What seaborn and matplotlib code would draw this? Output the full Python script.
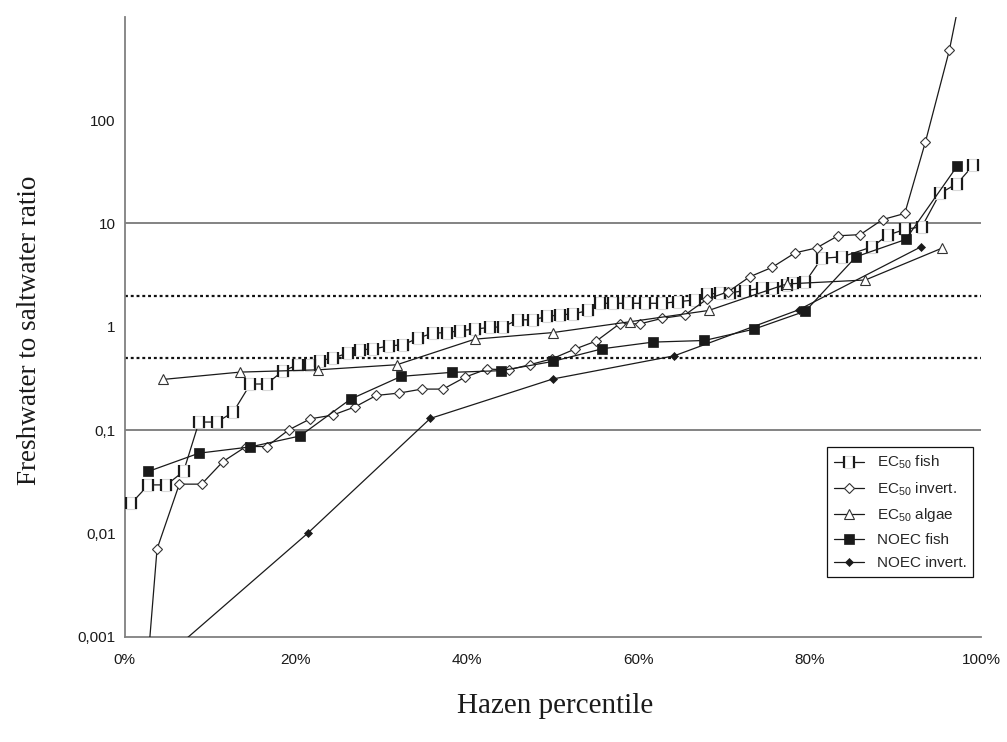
import numpy as np
import pandas as pd
import matplotlib
matplotlib.use("Agg")
import matplotlib.pyplot as plt
import seaborn as sns
from matplotlib.path import Path
from matplotlib.ticker import FixedLocator, FixedFormatter, NullLocator
from matplotlib.legend_handler import HandlerTuple

# ---------------- data (Hazen percentile, % ; freshwater/saltwater ratio) -------------
ec50_fish_x = [0.8, 2.8, 4.9, 6.9, 8.7, 10.8, 12.7, 14.7, 16.6, 18.5, 20.3, 21.6, 22.8, 24.4,
               26.1, 27.5, 29.0, 30.9, 32.5, 34.3, 36.0, 37.7, 39.2, 40.9, 42.7, 44.2, 45.9,
               47.7, 49.3, 50.9, 52.4, 54.1, 55.5, 57.0, 58.8, 60.8, 62.8, 64.6, 66.6, 68.0,
               69.5, 70.7, 72.5, 74.4, 75.7, 77.4, 78.1, 79.5, 81.4, 83.8, 87.3, 89.1, 91.1,
               93.1, 95.2, 97.2, 99.1]
ec50_fish_y = [0.0197, 0.0296, 0.0296, 0.040, 0.12, 0.12, 0.15, 0.28, 0.28, 0.375,
               0.43, 0.43, 0.47, 0.50, 0.56, 0.60, 0.61, 0.655, 0.67, 0.78,
               0.87, 0.88, 0.92, 0.95, 0.99, 1.0, 1.17, 1.17, 1.26, 1.31,
               1.33, 1.44, 1.69, 1.69, 1.69, 1.69, 1.69, 1.75, 1.82, 2.08,
               2.11, 2.14, 2.24, 2.36, 2.36, 2.54, 2.64, 2.73, 4.6, 4.76,
               5.95, 7.7, 8.76, 9.3, 19.5, 24.3, 36.5]

ec50_inv_x = [1.3, 3.8, 6.4, 9.0, 11.5, 14.2, 16.6, 19.2, 21.7, 24.3, 26.9, 29.4, 32.1,
              34.7, 37.2, 39.8, 42.3, 44.9, 47.3, 49.9, 52.6, 55.1, 57.8, 60.2, 62.8,
              65.4, 68.0, 70.5, 73.0, 75.6, 78.3, 80.8, 83.3, 85.9, 88.5, 91.1, 93.5,
              96.3, 98.8]
ec50_inv_y = [0.00002, 0.0071, 0.0301, 0.0301, 0.0498, 0.0696, 0.0696, 0.101, 0.129, 0.14,
              0.168, 0.217, 0.229, 0.25, 0.25, 0.327, 0.39, 0.385, 0.43, 0.49,
              0.61, 0.73, 1.07, 1.07, 1.21, 1.30, 1.85, 2.19, 3.05, 3.76,
              5.2, 5.8, 7.6, 7.8, 10.9, 12.5, 61.0, 472.0, 5000.0]

ec50_alg_x = [4.5, 13.5, 22.6, 31.8, 40.9, 50.0, 59.0, 68.2, 77.3, 86.5, 95.4]
ec50_alg_y = [0.31, 0.365, 0.384, 0.43, 0.76, 0.88, 1.12, 1.44, 2.6, 2.84, 5.75]

noec_fish_x = [2.8, 8.7, 14.7, 20.5, 26.4, 32.3, 38.2, 44.0, 50.0, 55.8, 61.7, 67.7,
               73.5, 79.5, 85.4, 91.2, 97.2]
noec_fish_y = [0.040, 0.060, 0.069, 0.088, 0.20, 0.332, 0.363, 0.377, 0.463, 0.614,
               0.712, 0.738, 0.95, 1.42, 4.76, 7.0, 35.7]

noec_inv_x = [7.2, 21.4, 35.7, 50.0, 64.2, 78.7, 93.0]
noec_inv_y = [0.00096, 0.0101, 0.13, 0.313, 0.525, 1.46, 5.95]

legend_labels = [r"EC$_{\mathrm{50}}$ fish", r"EC$_{\mathrm{50}}$ invert.",
                 r"EC$_{\mathrm{50}}$ algae", "NOEC fish", "NOEC invert."]
y_ticks = [0.001, 0.01, 0.1, 1, 10, 100, 1000]
y_ticklabels = ["0,001", "0,01", "0,1", "1", "10", "100", ""]
x_ticks = [0.0, 0.2, 0.4, 0.6, 0.8, 1.0]
x_ticklabels = ["0%", "20%", "40%", "60%", "80%", "100%"]
solid_refs = [10, 0.1]
dotted_refs = [2, 0.5]

# ---------------- style -------------
sns.set_style("white")
plt.rcParams["font.family"] = ["Liberation Sans", "DejaVu Sans"]
plt.rcParams["mathtext.fontset"] = "custom"
plt.rcParams["mathtext.rm"] = "Liberation Sans"
plt.rcParams["mathtext.it"] = "Liberation Sans:italic"

YMIN, YMAX = 1e-3, 1e3

fig = plt.figure(figsize=(10.07, 7.42), dpi=100)
ax = fig.add_axes([124.5 / 1007, 1 - 637 / 742, 856.5 / 1007, (637 - 16.7) / 742])
ax.set_yscale("log")

# reference lines
for v in solid_refs:
    ax.axhline(v, color="#7a7a7a", lw=1.3, zorder=1)
for v in dotted_refs:
    ax.axhline(v, color="#111111", lw=1.6, ls=(0, (1.3, 1.3)), zorder=1)

LC = "#1a1a1a"
LW = 0.9


def frame(x, y):
    return pd.DataFrame({"x": np.array(x) / 100.0, "y": y})


def visible(y):
    return [YMIN <= v <= YMAX for v in y]


box = Path([(-0.42, -0.5), (0.42, -0.5), (0.42, 0.5), (-0.42, 0.5), (-0.42, -0.5)],
           [Path.MOVETO, Path.LINETO, Path.LINETO, Path.LINETO, Path.CLOSEPOLY])
bars = Path([(-0.42, -0.5), (-0.42, 0.5), (0.42, -0.5), (0.42, 0.5)],
            [Path.MOVETO, Path.LINETO, Path.MOVETO, Path.LINETO])

# EC50 fish: white box with dark vertical sides
d = frame(ec50_fish_x, ec50_fish_y)
sns.lineplot(data=d, x="x", y="y", ax=ax, sort=False, estimator=None, color=LC, lw=LW,
             marker=box, markersize=8.3, markerfacecolor="white",
             markeredgecolor="#d9d9d9", markeredgewidth=0.8, zorder=3)
fish_line = ax.lines[-1]
sns.lineplot(data=d, x="x", y="y", ax=ax, sort=False, estimator=None, color=LC,
             linestyle="none", marker=bars, markersize=8.3, markeredgecolor="#1a1a1a",
             markeredgewidth=1.6, zorder=3.1)
fish_bars = ax.lines[-1]

# EC50 invertebrates: open diamonds
d = frame(ec50_inv_x, ec50_inv_y)
sns.lineplot(data=d, x="x", y="y", ax=ax, sort=False, estimator=None, color=LC, lw=LW,
             marker="D", markersize=4.8, markerfacecolor="white", markeredgecolor="#333333",
             markeredgewidth=0.8, markevery=visible(ec50_inv_y), zorder=4)
inv_line = ax.lines[-1]

# EC50 algae: open triangles
d = frame(ec50_alg_x, ec50_alg_y)
sns.lineplot(data=d, x="x", y="y", ax=ax, sort=False, estimator=None, color=LC, lw=LW,
             marker="^", markersize=7.5, markerfacecolor="white", markeredgecolor="#333333",
             markeredgewidth=0.8, zorder=4)
alg_line = ax.lines[-1]

# NOEC fish: filled squares
d = frame(noec_fish_x, noec_fish_y)
sns.lineplot(data=d, x="x", y="y", ax=ax, sort=False, estimator=None, color=LC, lw=LW,
             marker="s", markersize=7.2, markerfacecolor="#1a1a1a", markeredgecolor="#1a1a1a",
             markeredgewidth=0.5, zorder=5)
nf_line = ax.lines[-1]

# NOEC invertebrates: filled diamonds
d = frame(noec_inv_x, noec_inv_y)
sns.lineplot(data=d, x="x", y="y", ax=ax, sort=False, estimator=None, color=LC, lw=LW,
             marker="D", markersize=4.2, markerfacecolor="#1a1a1a", markeredgecolor="#1a1a1a",
             markeredgewidth=0.5, markevery=visible(noec_inv_y), zorder=5)
ni_line = ax.lines[-1]

# axes
ax.set_xlim(0, 1)
ax.set_ylim(YMIN, YMAX)
ax.yaxis.set_major_locator(FixedLocator(y_ticks))
ax.yaxis.set_major_formatter(FixedFormatter(y_ticklabels))
ax.yaxis.set_minor_locator(NullLocator())
ax.xaxis.set_major_locator(FixedLocator(x_ticks))
ax.xaxis.set_major_formatter(FixedFormatter(x_ticklabels))
ax.set_xlabel("")
ax.set_ylabel("")
for s in ["top", "right"]:
    ax.spines[s].set_visible(False)
for s in ["left", "bottom"]:
    ax.spines[s].set_color("#808080")
    ax.spines[s].set_linewidth(1.3)
ax.tick_params(axis="both", which="major", direction="inout", length=6.5, width=1,
               color="#222222", labelsize=11, labelcolor="#1a1a1a")
ax.tick_params(axis="x", pad=8)
ax.tick_params(axis="y", pad=3)
ax.grid(False)
ax.set_facecolor("white")

# legend
handles = [(fish_line, fish_bars), inv_line, alg_line, nf_line, ni_line]
leg = ax.legend(handles, legend_labels, handler_map={tuple: HandlerTuple(ndivide=1)},
                loc="upper left", bbox_to_anchor=(827 / 1007, 1 - 447 / 742),
                bbox_transform=fig.transFigure, borderaxespad=0, frameon=True,
                fancybox=False, edgecolor="#111111", framealpha=1, fontsize=11,
                handlelength=2.0, handletextpad=0.8, labelspacing=0.58, borderpad=0.45,
                numpoints=1)
leg.get_frame().set_linewidth(0.9)

# axis titles
fig.text(555 / 1007, 1 - 706 / 742, "Hazen percentile", ha="center", va="center",
         family=["Liberation Serif", "DejaVu Serif"], fontsize=21, color="#1a1a1a")
fig.text(30 / 1007, 1 - 330 / 742, "Freshwater to saltwater ratio", ha="center",
         va="center", rotation=90, family=["Liberation Serif", "DejaVu Serif"],
         fontsize=19.5, color="#1a1a1a")

fig.savefig("out.png", dpi=100, facecolor="white")
